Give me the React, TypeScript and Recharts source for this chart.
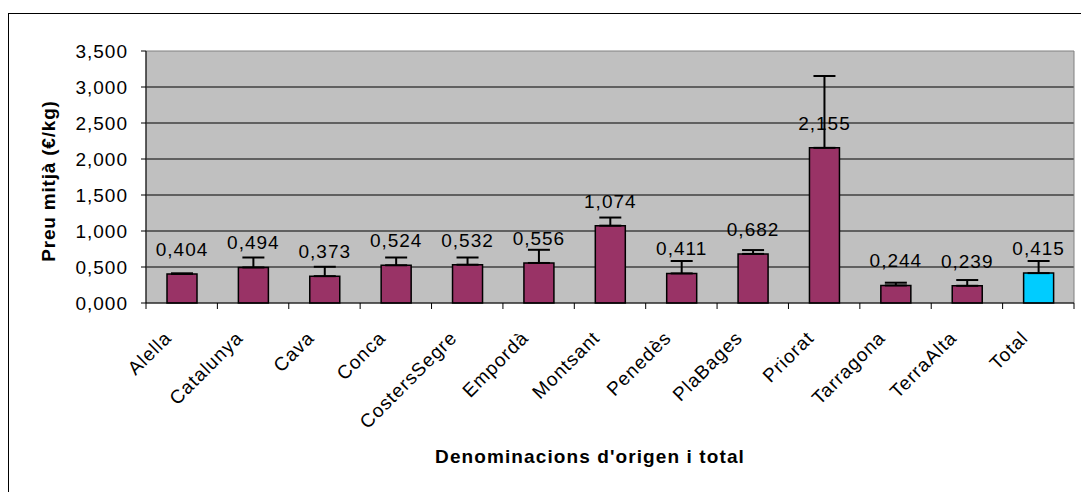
import React from "react";
import {
  BarChart,
  Bar,
  XAxis,
  YAxis,
  CartesianGrid,
  ErrorBar,
  LabelList,
  Cell,
  ReferenceArea,
} from "recharts";

// denominacions d'origen
const categories = [
  "Alella",
  "Catalunya",
  "Cava",
  "Conca",
  "CostersSegre",
  "Empordà",
  "Montsant",
  "Penedès",
  "PlaBages",
  "Priorat",
  "Tarragona",
  "TerraAlta",
  "Total",
];
// preu mitjà (€/kg)
const prices = [0.404, 0.494, 0.373, 0.524, 0.532, 0.556, 1.074, 0.411, 0.682, 2.155, 0.244, 0.239, 0.415];
// error bars (only upward)
const errors = [0.008, 0.138, 0.13, 0.108, 0.1, 0.183, 0.113, 0.172, 0.053, 0.998, 0.038, 0.08, 0.168];
const yTicks = [0, 0.5, 1, 1.5, 2, 2.5, 3, 3.5];

const data = categories.map((name, i) => ({ name, price: prices[i], err: [0, errors[i]] }));

const W = 1081;
const H = 492;
const LEFT = 146;
const RIGHT = 7;
const BAND = (W - LEFT - RIGHT) / categories.length;
const FONT = "'Liberation Sans', Arial, sans-serif";

const fmt = (v: number) => v.toFixed(3).replace(".", ",");

function CategoryTick(props: any) {
  const { x, y, payload, index } = props;
  const last = index === categories.length - 1;
  const tx = x - 9;
  const ty = y + 36;
  return (
    <g>
      <line x1={x - BAND / 2} y1={y} x2={x - BAND / 2} y2={y + 6} stroke="#000" />
      {last && <line x1={x + BAND / 2} y1={y} x2={x + BAND / 2} y2={y + 6} stroke="#000" />}
      <text
        x={tx}
        y={ty}
        transform={`rotate(-45, ${tx}, ${ty})`}
        textAnchor="end"
        fontSize={19}
        letterSpacing={1}
        fill="#000"
        fontFamily={FONT}
      >
        {payload.value}
      </text>
    </g>
  );
}

export default function App() {
  return (
    <div style={{ position: "absolute", left: 0, top: 0, width: W, height: H, overflow: "hidden", background: "#fff" }}>
      <div
        style={{
          position: "absolute",
          left: 8,
          top: 13,
          width: 1200,
          height: 600,
          borderLeft: "1px solid #000",
          borderTop: "1px solid #000",
        }}
      />
      <div style={{ position: "absolute", left: 0, top: 0 }}>
        <BarChart
          width={W}
          height={H}
          data={data}
          margin={{ top: 51, right: RIGHT, left: 0, bottom: 0 }}
          style={{ fontFamily: FONT }}
        >
          <CartesianGrid
            vertical={false}
            horizontalValues={[0.5, 1, 1.5, 2, 2.5, 3]}
            stroke="#000"
            fill="#C0C0C0"
            fillOpacity={1}
          />
          <ReferenceArea y1={0} y2={3.5} fill="none" stroke="#808080" strokeWidth={1} ifOverflow="visible" />
          <XAxis
            dataKey="name"
            height={H - 303}
            tickLine={false}
            tickSize={0}
            tickMargin={0}
            interval={0}
            axisLine={{ stroke: "#000" }}
            tick={<CategoryTick />}
            label={{
              content: (p: any) => {
                const vb = p.viewBox;
                return (
                  <text
                    x={vb.x + vb.width / 2 - 20}
                    y={vb.y + 160}
                    textAnchor="middle"
                    fontSize={19}
                    fontWeight="bold"
                    letterSpacing={1.1}
                    fill="#000"
                    fontFamily={FONT}
                  >
                    Denominacions d'origen i total
                  </text>
                );
              },
            }}
          />
          <YAxis
            width={LEFT}
            domain={[0, 3.5]}
            ticks={yTicks}
            tickFormatter={fmt}
            tickSize={5}
            tickMargin={13}
            axisLine={{ stroke: "#000" }}
            tickLine={{ stroke: "#000" }}
            tick={{ fill: "#000", fontSize: 19, letterSpacing: 1 }}
            label={{
              content: (p: any) => {
                const vb = p.viewBox;
                const cx = 55;
                const cy = vb.y + vb.height / 2 + 4;
                return (
                  <text
                    x={cx}
                    y={cy}
                    transform={`rotate(-90, ${cx}, ${cy})`}
                    textAnchor="middle"
                    fontSize={19}
                    fontWeight="bold"
                    letterSpacing={0.8}
                    fill="#000"
                    fontFamily={FONT}
                  >
                    Preu mitjà (€/kg)
                  </text>
                );
              },
            }}
          />
          <Bar dataKey="price" barSize={30} stroke="#000" strokeWidth={1.5} isAnimationActive={false}>
            {data.map((d) => (
              <Cell key={d.name} fill={d.name === "Total" ? "#00CCFF" : "#993366"} />
            ))}
            <ErrorBar dataKey="err" direction="y" width={11} stroke="#000" strokeWidth={2} isAnimationActive={false} />
            <LabelList
              dataKey="price"
              position="top"
              offset={18}
              formatter={(v: any) => fmt(Number(v))}
              fill="#000"
              fontSize={19}
              letterSpacing={1}
            />
          </Bar>
        </BarChart>
      </div>
    </div>
  );
}
